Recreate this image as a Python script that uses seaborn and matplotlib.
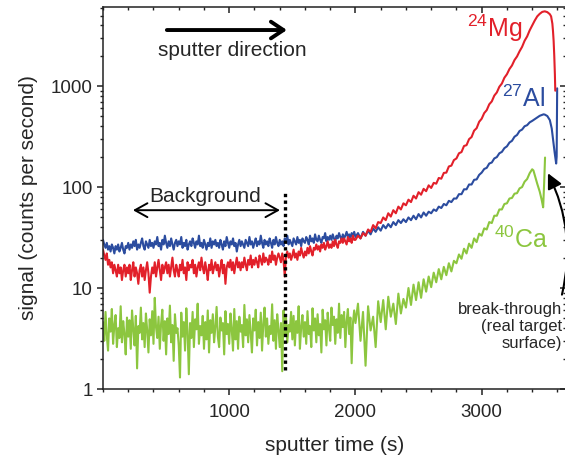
import numpy as np
import pandas as pd
import seaborn as sns
import matplotlib.pyplot as plt
from matplotlib.ticker import FixedLocator, MultipleLocator, LogLocator, FuncFormatter, NullFormatter

# background part read every 10 s (0 ... 1990 s),
# rising part every 20 s (2000 ... 3380 s), then the peak / break-through tail
bg_step_s = 10
rise_start_s = 2000
rise_step_s = 20

mg_bg = [
    24, 21, 19, 22, 17, 19, 16, 18, 14, 17,
    15, 13, 17, 14, 16, 12, 15, 17, 13, 16,
    14, 17, 12, 15, 18, 13, 16, 14, 11, 15,
    17, 13, 16, 12, 15, 18, 14, 9, 13, 16,
    14, 18, 13, 16, 19, 15, 12, 17, 14, 16,
    18, 14, 17, 13, 16, 20, 15, 13, 17, 15,
    13, 17, 15, 19, 14, 16, 12, 18, 15, 17,
    16, 19, 14, 17, 13, 16, 18, 15, 20, 16,
    14, 18, 15, 12, 17, 15, 19, 14, 16, 18,
    15, 17, 13, 16, 19, 14, 17, 11, 16, 18,
    16, 19, 15, 18, 14, 17, 20, 16, 18, 15,
    18, 16, 20, 17, 15, 19, 17, 21, 16, 19,
    17, 20, 18, 16, 21, 19, 17, 22, 18, 20,
    19, 17, 21, 18, 23, 19, 21, 17, 20, 22,
    20, 18, 22, 19, 13, 21, 23, 20, 22, 19,
    21, 24, 20, 22, 19, 23, 21, 25, 22, 20,
    23, 21, 25, 22, 26, 23, 21, 25, 24, 27,
    24, 26, 23, 27, 25, 28, 24, 26, 29, 25,
    27, 25, 29, 26, 30, 27, 25, 29, 28, 31,
    28, 31, 29, 27, 32, 29, 31, 28, 33, 30,
]
mg_rise = [
    30, 33, 31, 35, 33, 38, 36, 42, 39, 45,
    44, 50, 47, 55, 51, 59, 55, 64, 60, 69,
    66, 75, 71, 82, 77, 89, 84, 96, 91, 104,
    98, 110, 108, 123, 121, 138, 139, 160, 163, 185,
    192, 216, 222, 255, 260, 298, 313, 362, 383, 443,
    475, 540, 578, 660, 705, 805, 865, 985, 1060, 1210,
    1310, 1475, 1600, 1810, 1965, 2210, 2445, 2810, 3100, 3560,
]
mg_tail_s = [3400, 3420, 3440, 3460, 3480, 3500, 3520, 3540, 3550, 3560, 3565, 3570, 3575, 3580, 3583]
mg_tail = [3980, 4450, 4900, 5200, 5430, 5500, 5400, 5150, 4900, 4150, 3500, 2800, 2000, 1300, 900]

al_bg = [
    30, 27, 25, 28, 24, 26, 23, 27, 25, 22,
    26, 24, 27, 23, 25, 28, 24, 22, 26, 25,
    28, 24, 27, 25, 29, 26, 30, 24, 27, 25,
    28, 31, 26, 24, 29, 27, 25, 30, 26, 28,
    25, 29, 27, 32, 26, 28, 24, 30, 27, 33,
    28, 25, 29, 26, 31, 27, 24, 28, 30, 26,
    29, 27, 32, 25, 28, 26, 30, 24, 27, 29,
    26, 31, 28, 25, 29, 27, 33, 26, 28, 25,
    30, 27, 24, 28, 26, 31, 25, 29, 27, 30,
    26, 28, 25, 30, 27, 24, 29, 26, 32, 28,
    25, 29, 27, 31, 26, 28, 23, 27, 30, 26,
    29, 27, 25, 30, 28, 26, 32, 27, 29, 25,
    28, 31, 26, 29, 27, 33, 28, 25, 30, 27,
    29, 26, 31, 28, 25, 30, 27, 32, 28, 26,
    30, 27, 29, 26, 31, 28, 33, 27, 30, 28,
    26, 31, 29, 27, 32, 28, 30, 26, 31, 29,
    28, 32, 30, 27, 33, 29, 31, 28, 34, 30,
    29, 33, 30, 28, 32, 31, 35, 29, 32, 30,
    33, 30, 34, 31, 29, 33, 31, 35, 32, 30,
    34, 31, 33, 36, 32, 34, 31, 35, 33, 36,
]
al_rise = [
    32, 35, 31, 36, 33, 37, 34, 39, 36, 40,
    37, 42, 39, 43, 40, 45, 42, 47, 44, 48,
    45, 50, 47, 52, 48, 54, 50, 56, 52, 57,
    55, 60, 58, 64, 62, 68, 66, 73, 71, 77,
    77, 85, 85, 95, 95, 106, 106, 118, 119, 132,
    139, 151, 155, 171, 175, 192, 198, 216, 223, 243,
    253, 276, 287, 315, 328, 359, 371, 400, 410, 437,
]
al_tail_s = [3400, 3420, 3440, 3460, 3480, 3490, 3500, 3520, 3540, 3555, 3566, 3578, 3590, 3594, 3598]
al_tail = [452, 470, 490, 508, 520, 525, 522, 505, 460, 380, 290, 220, 171, 200, 950]

ca_bg = [
    4.6, 3.0, 5.8, 3.4, 2.4, 5.0, 3.7, 6.2, 2.8, 4.3,
    5.4, 2.6, 4.0, 3.2, 6.6, 2.9, 4.7, 3.5, 2.2, 5.1,
    3.3, 4.8, 2.5, 6.0, 3.9, 2.7, 5.3, 1.6, 4.2, 3.6,
    6.4, 3.1, 4.5, 2.6, 5.6, 3.8, 2.3, 4.9, 3.4, 5.9,
    2.8, 8.0, 4.1, 3.2, 5.2, 2.5, 4.4, 6.1, 3.0, 4.7,
    2.2, 5.0, 3.5, 6.7, 2.9, 4.3, 1.9, 5.5, 3.6, 4.0,
    2.7, 1.3, 5.7, 3.3, 4.6, 2.4, 6.3, 3.7, 1.4, 4.5,
    3.2, 5.8, 2.6, 4.9, 3.9, 7.0, 2.8, 4.2, 3.4, 5.3,
    2.5, 4.6, 3.1, 6.0, 2.3, 4.8, 3.6, 5.5, 2.9, 4.1,
    6.5, 3.3, 2.6, 5.1, 3.8, 4.5, 2.2, 5.9, 3.5, 4.4,
    2.8, 5.6, 3.9, 2.4, 6.2, 3.1, 4.7, 2.5, 5.2, 3.7,
    4.3, 2.6, 6.8, 3.4, 4.9, 2.9, 5.4, 3.6, 2.3, 5.0,
    3.8, 6.1, 2.7, 4.6, 3.2, 5.7, 2.4, 4.4, 6.4, 3.3,
    5.0, 2.8, 4.2, 3.5, 6.9, 3.0, 4.8, 2.5, 5.5, 3.9,
    2.6, 4.5, 1.5, 6.0, 3.4, 5.1, 2.9, 4.3, 3.7, 5.8,
    3.1, 5.3, 2.7, 4.7, 3.6, 6.6, 2.5, 4.1, 5.4, 3.3,
    4.6, 2.8, 5.9, 3.5, 4.2, 2.6, 6.3, 3.8, 5.0, 2.9,
    5.5, 3.4, 4.4, 2.3, 6.1, 3.9, 4.8, 2.7, 5.7, 4.0,
    3.0, 6.4, 4.3, 5.2, 2.8, 4.9, 3.6, 7.0, 3.2, 5.4,
    4.1, 5.8, 2.6, 4.7, 6.2, 3.5, 5.1, 1.8, 4.5, 6.0,
]
ca_rise = [
    4.5, 7.0, 3.0, 5.8, 1.7, 6.6, 3.8, 5.2, 2.6, 7.4,
    4.6, 7.6, 3.9, 8.2, 5.2, 7.0, 4.4, 8.8, 5.6, 7.8,
    6.4, 10.0, 6.8, 10.8, 7.6, 11.4, 8.0, 12.2, 9.2, 13.0,
    10.2, 14.2, 11.4, 15.4, 12.2, 16.2, 13.4, 17.6, 14.6, 18.6,
    17.6, 21.5, 19.5, 24.5, 22, 27.5, 25, 31, 28.5, 34.5,
    33, 39, 38, 45, 44, 52, 52, 60, 60, 68,
    69, 77, 78, 86, 87, 97, 100, 113, 120, 137,
]
ca_tail_s = [3400, 3410, 3420, 3440, 3460, 3475, 3487, 3495, 3502]
ca_tail = [150, 146, 132, 108, 90, 75, 63, 110, 196]

isotopes = ["Al", "Mg", "Ca"]
colors = {"Mg": "#e2202a", "Al": "#2b4c9f", "Ca": "#8cc63f"}
background_end_s = 1440


def profile(name, bg, rise, tail_s, tail):
    t = np.concatenate([np.arange(len(bg)) * bg_step_s,
                        rise_start_s + np.arange(len(rise)) * rise_step_s,
                        tail_s])
    return pd.DataFrame({"time": t, "counts": np.concatenate([bg, rise, tail]), "isotope": name})


df = pd.concat([
    profile("Mg", mg_bg, mg_rise, mg_tail_s, mg_tail),
    profile("Al", al_bg, al_rise, al_tail_s, al_tail),
    profile("Ca", ca_bg, ca_rise, ca_tail_s, ca_tail),
], ignore_index=True)

sns.set_theme(style="ticks")
plt.rcParams["font.family"] = ["Liberation Sans", "DejaVu Sans"]
plt.rcParams["mathtext.fontset"] = "custom"
plt.rcParams["mathtext.rm"] = "Liberation Sans"
plt.rcParams["mathtext.it"] = "Liberation Sans"

fig = plt.figure(figsize=(5.65, 4.58), dpi=100)
W, H = 565, 458
ax = fig.add_axes([103 / W, (H - 389) / H, (566 - 103) / W, (389 - 7) / H])

sns.lineplot(data=df, x="time", y="counts", hue="isotope", hue_order=isotopes,
             palette=colors, estimator=None, sort=False, linewidth=1.5,
             legend=False, ax=ax)

ax.set_yscale("log")
ax.set_xlim(0, 3668)
ax.set_ylim(1, 6070)

ax.xaxis.set_major_locator(FixedLocator([1000, 2000, 3000]))
ax.xaxis.set_minor_locator(MultipleLocator(200))
ax.yaxis.set_major_locator(LogLocator(base=10))
ax.yaxis.set_minor_locator(LogLocator(base=10, subs=np.arange(2, 10)))
ax.yaxis.set_major_formatter(FuncFormatter(lambda v, p: f"{v:g}"))
ax.yaxis.set_minor_formatter(NullFormatter())

for side in ["left", "bottom", "top", "right"]:
    ax.spines[side].set_linewidth(1.1)
    ax.spines[side].set_color("#222222")
ax.tick_params(which="major", direction="out", length=4.5, width=1.1, labelsize=13.5,
               color="#222222", pad=3)
ax.tick_params(axis="x", which="major", pad=6)
ax.tick_params(which="minor", direction="out", length=2.5, width=1.0, color="#222222")

# mirrored ticks on top and right, pointing inward
top = ax.secondary_xaxis("top")
top.xaxis.set_major_locator(FixedLocator([1000, 2000, 3000]))
top.xaxis.set_minor_locator(MultipleLocator(200))
top.tick_params(which="major", direction="in", length=4.5, width=1.1, labeltop=False, color="#222222")
top.tick_params(which="minor", direction="in", length=2.5, width=1.0, color="#222222")
top.spines["top"].set_visible(False)
right = ax.secondary_yaxis("right")
right.tick_params(which="major", direction="in", length=4.5, width=1.1, labelright=False, color="#222222")
right.tick_params(which="minor", direction="in", length=2.5, width=1.0, color="#222222")
right.spines["right"].set_visible(False)

ax.set_xlabel("sputter time (s)", fontsize=15, labelpad=11)
ax.set_ylabel("signal (counts per second)", fontsize=15, labelpad=9)

# annotations
ax.annotate("", xy=(1457, 3590), xytext=(506, 3590),
            arrowprops=dict(arrowstyle="->,head_length=0.45,head_width=0.3", lw=2.8,
                            color="black", shrinkA=0, shrinkB=0, mutation_scale=20))
ax.text(1023, 2275, "sputter direction", ha="center", va="center", fontsize=15)

ax.annotate("", xy=(1402, 59), xytext=(237, 59),
            arrowprops=dict(arrowstyle="<->,head_length=0.45,head_width=0.25", lw=1.4,
                            color="black", shrinkA=0, shrinkB=0, mutation_scale=20))
ax.text(809, 81, "Background", ha="center", va="center", fontsize=15)
ax.plot([background_end_s, background_end_s], [1.53, 89], color="black",
        lw=2.4, linestyle=(0, (1, 1)))

ax.text(3320, 3055, r"$^{24}$Mg", color=colors["Mg"], fontsize=18, ha="right", va="baseline")
ax.text(3502, 619, r"$^{27}$Al", color=colors["Al"], fontsize=18, ha="right", va="baseline")
ax.text(3526, 24.8, r"$^{40}$Ca", color=colors["Ca"], fontsize=18, ha="right", va="baseline")

ax.text(3640, 4.18, "break-through\n(real target\nsurface)", ha="right", va="center",
        multialignment="right", fontsize=12, linespacing=1.15)
ax.annotate("", xy=(3525, 137), xytext=(3636, 8.6),
            arrowprops=dict(arrowstyle="-|>,head_length=0.6,head_width=0.3", lw=1.5,
                            color="black", shrinkA=0, shrinkB=0, mutation_scale=15,
                            connectionstyle="arc3,rad=0.18"))

fig.savefig("out.png", dpi=100, facecolor="white")
